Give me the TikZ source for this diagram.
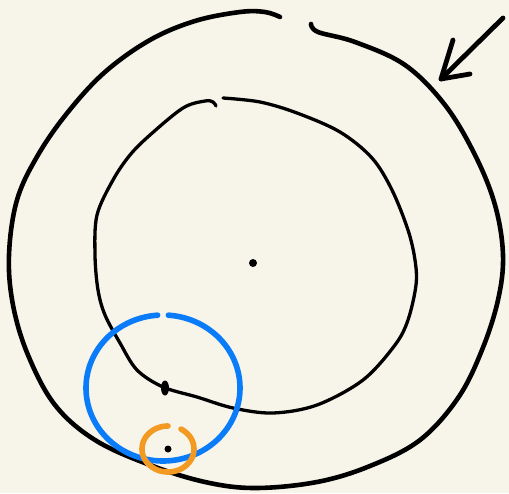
\documentclass[tikz,border=0pt]{standalone}
\usetikzlibrary{shapes.geometric}
\definecolor{paper}{RGB}{247,245,233}
\definecolor{skyblue}{RGB}{10,124,250}
\definecolor{tangerine}{RGB}{243,154,35}
\tikzset{
  ink/.style={draw=black, line cap=round, line join=round},
  dotmark/.style={circle, fill=black, inner sep=0pt, minimum size=#1},
}
\begin{document}
\begin{tikzpicture}[x=1pt,y=-1pt]
\fill[paper] (0,0) rectangle (509,493);
\useasboundingbox (0,0) rectangle (509,493);
% outer circle
\draw[ink, line width=4.6pt] plot[smooth, tension=0.6] coordinates {
 (311,24) (318,32) (355,42) (405,65) (445,105) (475,155) (495,205) (503,255)
 (498,300) (482,350) (458,398) (420,440) (370,466) (317,482) (255,488)
 (205,482) (150,465) (95,440) (55,405) (28,355) (13,305) (9,255)
 (17,200) (38,155) (68,112) (105,72) (150,40) (195,21) (240,12) (265,12) (280,17)};
% inner circle
\draw[ink, line width=3.3pt] plot[smooth, tension=0.55] coordinates {
 (223,98) (260,102) (297,113) (340,132) (372,158) (392,190) (408,230) (415,260)
 (416,285) (408,320) (395,345) (363,380) (317,405) (273,413) (233,408)
 (197,397) (163,387) (137,370) (120,343) (105,315) (98,290) (95,255)
 (97,215) (113,180) (130,155) (150,135) (183,108) (205,101) (213,102) (216,106)};
% blue circle
\draw[skyblue, line width=5.6pt, line cap=round] plot[smooth, domain=-266:86, samples=90]
  ({163+77*cos(\x)},{388-73*sin(\x)});
% orange circle
\draw[tangerine, line width=5.6pt, line cap=round] plot[smooth, domain=-270:60, samples=60]
  ({168+26*cos(\x)},{449-23*sin(\x)});
% marks
\node[dotmark=8pt] (centre) at (253,263) {};
\node[ellipse, fill=black, inner sep=0pt, minimum width=8pt, minimum height=15pt] (mark) at (165,388) {};
\node[dotmark=7pt] (point) at (168,449) {};
% arrow
\coordinate (tail) at (503,18);
\coordinate (tip) at (441,79);
\coordinate (barbA) at (453,40);
\coordinate (barbB) at (470,74);
\draw[ink, line width=4.8pt] (tail) -- (tip);
\draw[ink, line width=4.8pt] (barbA) -- (tip) -- (barbB);
\end{tikzpicture}
\end{document}
